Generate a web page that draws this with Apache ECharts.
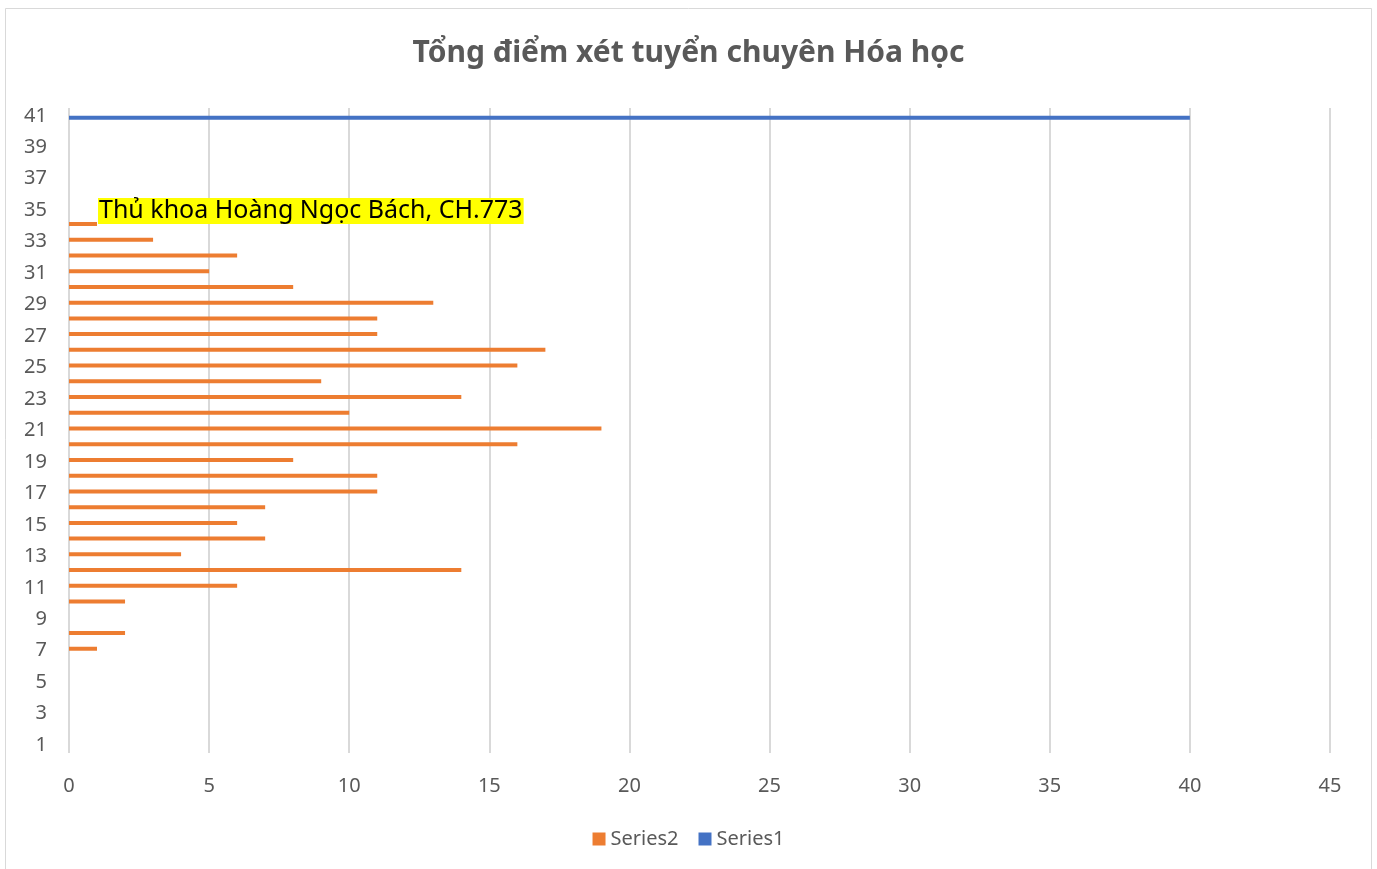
<!DOCTYPE html>
<html>
<head>
<meta charset="utf-8">
<script src="https://cdn.jsdelivr.net/npm/echarts@6/dist/echarts.min.js"></script>
<style>
html,body{margin:0;padding:0;background:#fff;}
#chart{width:1377px;height:869px;}
</style>
</head>
<body>
<div id="chart"></div>
<script>
const titleText = 'Tổng điểm xét tuyển chuyên Hóa học';
const categories = ['1','2','3','4','5','6','7','8','9','10','11','12','13','14','15','16','17','18','19','20','21','22','23','24','25','26','27','28','29','30','31','32','33','34','35','36','37','38','39','40','41'];
const series2Values = [null,null,null,null,null,null,1,2,null,2,6,14,4,7,6,7,11,11,8,16,19,10,14,9,16,17,11,11,13,8,5,6,3,1,null,null,null,null,null,null,null];
const series1Values = [null,null,null,null,null,null,null,null,null,null,null,null,null,null,null,null,null,null,null,null,null,null,null,null,null,null,null,null,null,null,null,null,null,null,null,null,null,null,null,null,40];
const annotationCategory = '34';
const annotationText = 'Thủ khoa Hoàng Ngọc Bách, CH.773';
const xMin = 0, xMax = 45, xInterval = 5;

const font = '"Noto Sans", "Open Sans", sans-serif';
const s2Data = series2Values.map((v, i) => {
  if (categories[i] === annotationCategory) {
    return {
      value: v,
      label: {
        show: true, position: 'right', distance: 1, offset: [0, -13],
        formatter: annotationText, color: '#000', fontSize: 25, fontFamily: font,
        backgroundColor: '#ffff00', padding: [1, 1, 0, 1]
      }
    };
  }
  return v;
});

const chart = echarts.init(document.getElementById('chart'));
chart.setOption({
  animation: false,
  backgroundColor: '#fff',
  title: {
    text: titleText, left: 'center', top: 33,
    textStyle: { fontSize: 30, fontWeight: 'bold', color: '#595959', fontFamily: font }
  },
  legend: {
    bottom: 15, left: 'center', itemWidth: 13, itemHeight: 13, itemGap: 20,
    icon: 'rect',
    textStyle: { fontSize: 20, color: '#595959', fontFamily: font },
    data: ['Series2', 'Series1']
  },
  grid: { left: 69, right: 47, top: 108, bottom: 116, containLabel: false },
  xAxis: {
    type: 'value', min: xMin, max: xMax, interval: xInterval,
    axisLine: { show: false }, axisTick: { show: false },
    axisLabel: { fontSize: 20, color: '#595959', fontFamily: font, margin: 23 },
    splitLine: { show: true, lineStyle: { color: '#d9d9d9', width: 2 } }
  },
  yAxis: {
    type: 'category', data: categories,
    axisLine: { show: false }, axisTick: { show: false },
    axisLabel: { interval: 1, fontSize: 20, color: '#595959', fontFamily: font, margin: 22 },
    splitLine: { show: false }
  },
  graphic: [{
    type: 'rect', shape: { x: 5.5, y: 8.5, width: 1366, height: 870 },
    style: { fill: 'none', stroke: '#d9d9d9', lineWidth: 1 }, silent: true, z: -1
  }],
  series: [
    { name: 'Series2', type: 'bar', data: s2Data, barWidth: 4, barGap: '0%',
      itemStyle: { color: '#ed7d31' } },
    { name: 'Series1', type: 'bar', data: series1Values, barWidth: 4, barGap: '0%',
      itemStyle: { color: '#4472c4' } }
  ]
});
</script>
</body>
</html>
